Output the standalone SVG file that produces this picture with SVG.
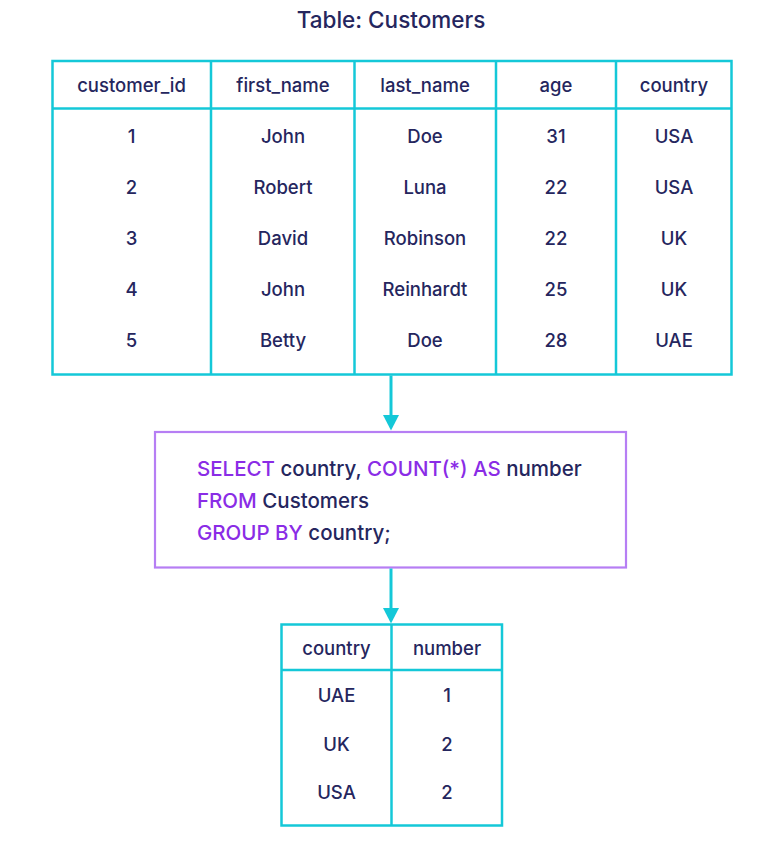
<svg xmlns="http://www.w3.org/2000/svg" width="766" height="856" viewBox="0 0 766 856">
<style>
.t{font-family:Inter,"Noto Sans",sans-serif;font-weight:500;fill:#25265e;text-anchor:middle;font-size:18.5px}
.ttl{font-family:Inter,"Noto Sans",sans-serif;font-weight:500;fill:#25265e;text-anchor:middle;font-size:22.5px}
.sql{font-family:Inter,"Noto Sans",sans-serif;font-weight:500;fill:#25265e;font-size:20.5px}
.kw{fill:#8a2ce6}
.grid{fill:none;stroke:#14c8d8;stroke-width:2.5}
.box{fill:#fff;stroke:#b67ef4;stroke-width:2.2}
.conn{stroke:#14c8d8;stroke-width:3;fill:none}
.head{fill:#14c8d8}
</style>
<rect width="766" height="856" fill="#fff"/>
<text class="ttl" x="391" y="28">Table: Customers</text>
<g id="customers">
<rect class="grid" x="52.5" y="61" width="679" height="313.5"/>
<line class="grid" x1="52.5" y1="108.5" x2="731.5" y2="108.5"/>
<line class="grid" x1="211" y1="61" x2="211" y2="374.5"/>
<line class="grid" x1="354.5" y1="61" x2="354.5" y2="374.5"/>
<line class="grid" x1="496" y1="61" x2="496" y2="374.5"/>
<line class="grid" x1="616" y1="61" x2="616" y2="374.5"/>
<g class="t">
<text x="131.5" y="91.5">customer_id</text><text x="283" y="91.5">first_name</text><text x="425" y="91.5">last_name</text><text x="556" y="91.5">age</text><text x="674" y="91.5">country</text>
<text x="131.5" y="142.5">1</text><text x="283" y="142.5">John</text><text x="425" y="142.5">Doe</text><text x="556" y="142.5">31</text><text x="674" y="142.5">USA</text>
<text x="131.5" y="193.5">2</text><text x="283" y="193.5">Robert</text><text x="425" y="193.5">Luna</text><text x="556" y="193.5">22</text><text x="674" y="193.5">USA</text>
<text x="131.5" y="244.5">3</text><text x="283" y="244.5">David</text><text x="425" y="244.5">Robinson</text><text x="556" y="244.5">22</text><text x="674" y="244.5">UK</text>
<text x="131.5" y="295.5">4</text><text x="283" y="295.5">John</text><text x="425" y="295.5">Reinhardt</text><text x="556" y="295.5">25</text><text x="674" y="295.5">UK</text>
<text x="131.5" y="346.5">5</text><text x="283" y="346.5">Betty</text><text x="425" y="346.5">Doe</text><text x="556" y="346.5">28</text><text x="674" y="346.5">UAE</text>
</g>
</g>
<g id="query">
<rect class="box" x="155" y="432" width="471" height="135.5"/>
<text class="sql" x="197" y="475.5"><tspan class="kw">SELECT</tspan> country, <tspan class="kw">COUNT(*) AS</tspan> number</text>
<text class="sql" x="197" y="507.5"><tspan class="kw">FROM</tspan> Customers</text>
<text class="sql" x="197" y="539.5"><tspan class="kw">GROUP BY</tspan> country;</text>
</g>
<g id="result">
<rect class="grid" x="281.5" y="624.5" width="220.5" height="201"/>
<line class="grid" x1="281.5" y1="670" x2="502" y2="670"/>
<line class="grid" x1="391.5" y1="624.5" x2="391.5" y2="825.5"/>
<g class="t">
<text x="336.5" y="654.5">country</text><text x="447" y="654.5">number</text>
<text x="336.5" y="701.5">UAE</text><text x="447" y="701.5">1</text>
<text x="336.5" y="750.5">UK</text><text x="447" y="750.5">2</text>
<text x="336.5" y="798.5">USA</text><text x="447" y="798.5">2</text>
</g>
</g>
<g id="connectors">
<line class="conn" x1="391" y1="375.5" x2="391" y2="416"/>
<polygon class="head" points="383,415 399,415 391,430.5"/>
<line class="conn" x1="391" y1="568.5" x2="391" y2="609"/>
<polygon class="head" points="383,608 399,608 391,623.5"/>
</g>
</svg>
